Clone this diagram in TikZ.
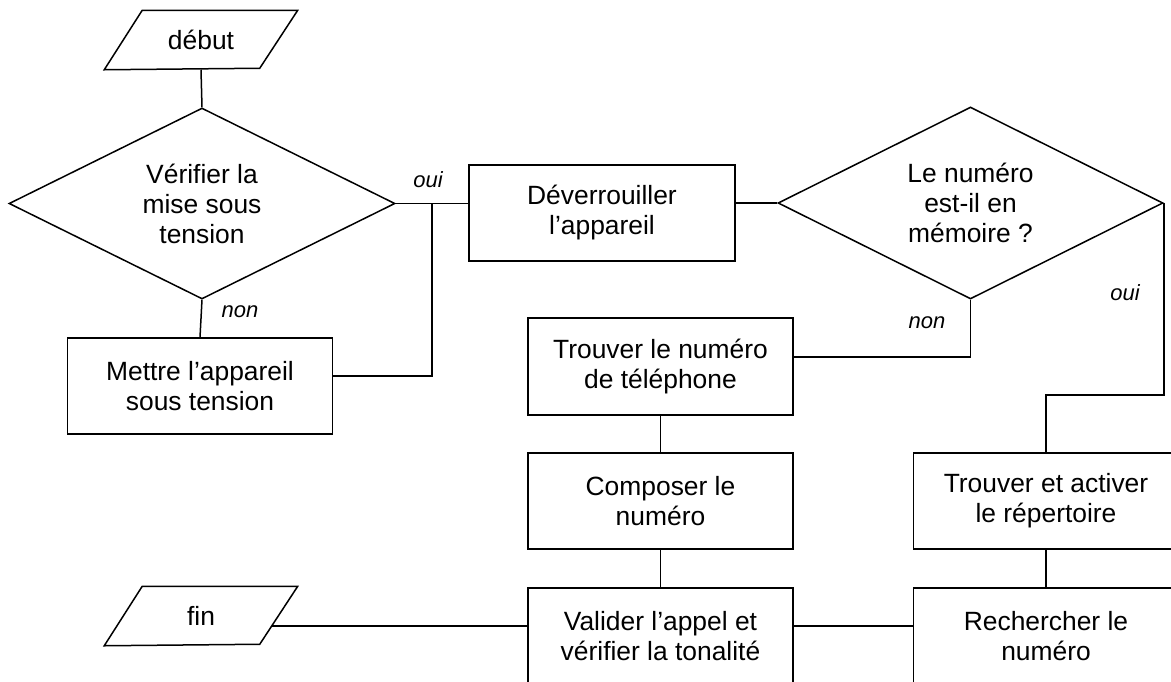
\documentclass[tikz,border=0pt]{standalone}
\usepackage{fontspec}
\setmainfont{Liberation Sans}
\usetikzlibrary{shapes.geometric}
\begin{document}
\begin{tikzpicture}[x=1pt,y=-1pt, line width=1.5pt,
  txt/.style={font=\fontsize{26.4}{30}\selectfont, align=center},
  box/.style={txt, draw, rectangle, minimum width=265pt, minimum height=96pt, inner sep=0pt},
  dia/.style={txt, draw, diamond, aspect=2, minimum width=386pt, minimum height=191pt, inner sep=0pt},
  io/.style={txt, rectangle, minimum width=192pt, minimum height=58pt, inner sep=0pt},
  lab/.style={font=\fontsize{22}{26}\selectfont\itshape, inner sep=0pt}]
\useasboundingbox (0,0) rectangle (1171,681);
\clip (0,0) rectangle (1171,681);
% nodes
\node[io] (debut) at (201,40) {début};
\node[dia] (d1) at (202,203.5) {Vérifier la\\mise sous\\tension};
\node[box] (mettre) at (200,386) {Mettre l’appareil\\sous tension};
\node[box, minimum width=266pt] (dev) at (602,213) {Déverrouiller\\l’appareil};
\node[dia, minimum width=385pt, minimum height=192pt] (d2) at (970.5,203) {Le numéro\\est-il en\\mémoire ?};
\node[box, minimum height=97pt] (trouver) at (660.5,366.5) {Trouver le numéro\\de téléphone};
\node[box] (compo) at (660.5,501) {Composer le\\numéro};
\node[box] (valid) at (660.5,636) {Valider l’appel et\\vérifier la tonalité};
\node[io] (fin) at (201,616) {fin};
\node[box] (activ) at (1046,501) {Trouver et activer\\le répertoire};
\node[box] (rech) at (1046,636) {Rechercher le\\numéro};
% parallelograms
\draw (debut.north west) ++(38,0) -- (debut.north east) -- ++(-38,58) -- (debut.south west) -- cycle;
\draw (fin.north west) ++(38,0) -- (fin.north east) -- ++(-38,58) -- (fin.south west) -- cycle;
% labels
\node[lab] (l1) at (428,180) {oui};
\node[lab] (l2) at (240,312) {non};
\node[lab] (l3) at (927,323) {non};
\node[lab] (l4) at (1125,293) {oui};
% junctions
\coordinate (j1) at (432,203);
\coordinate (j2) at (1046,395);
\coordinate (finr) at (271.5,626);
% connectors
\draw (debut.south) -- (d1.north);
\draw (d1.south) -- (mettre.north);
\draw (d1.east) -- (d1.east -| dev.west);
\draw ([yshift=10pt]mettre.east) -| (j1);
\draw (dev.east |- d2.west) -- (d2.west);
\draw (d2.south) |- ([yshift=9.5pt]trouver.east);
\draw (d2.east) |- (j2) -- (activ.north);
\draw (trouver.south) -- (compo.north);
\draw (compo.south) -- (valid.north);
\draw (activ.south) -- (rech.north);
\draw ([yshift=10pt]valid.east) -- ([yshift=10pt]rech.west);
\draw (finr) -- ([yshift=10pt]valid.west);
\end{tikzpicture}
\end{document}
